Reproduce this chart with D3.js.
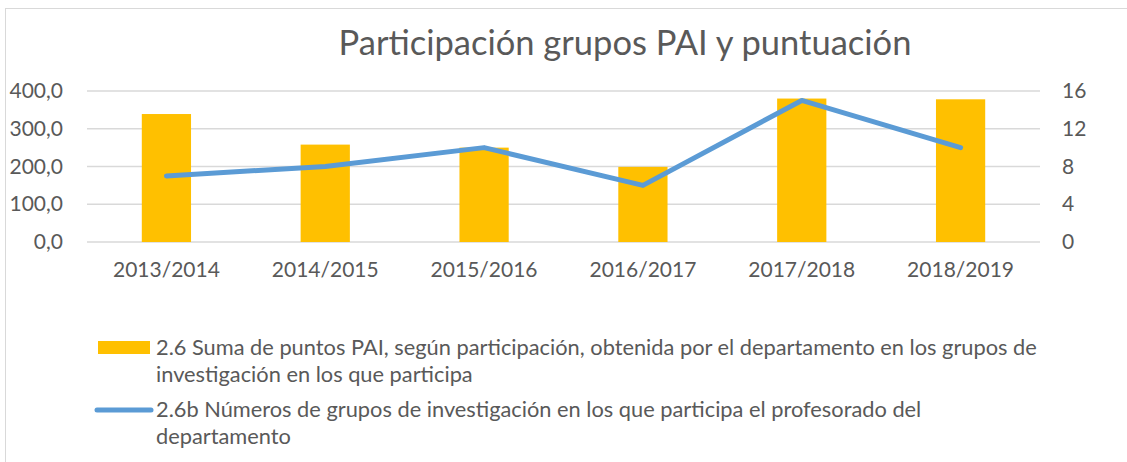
<!DOCTYPE html>
<meta charset="utf-8">
<style>
  body {
    margin: 0;
    background: #fff;
  }

  svg text {
    font-family: Lato, "Open Sans", sans-serif;
    fill: #595959;
  }

  .grid line {
    stroke: #d9d9d9;
    stroke-width: 1.5;
  }
</style>
<body>
  <div id="chart"></div>
  <script src="https://cdnjs.cloudflare.com/ajax/libs/d3/7.8.5/d3.min.js"></script>
  <script>

var width = 1127,
    height = 462;

// data
var years = ["2013/2014", "2014/2015", "2015/2016", "2016/2017", "2017/2018", "2018/2019"];
var puntos = [339, 258, 250, 199, 380, 378];
var grupos = [7, 8, 10, 6, 15, 10];
var leftTicks = [0, 100, 200, 300, 400];
var rightTicks = [0, 4, 8, 12, 16];

var title = "Participación grupos PAI y puntuación";
var legendBar = ["2.6 Suma de puntos PAI, según participación, obtenida por el departamento en los grupos de",
                 "investigación en los que participa"];
var legendLine = ["2.6b Números de grupos de investigación en los que participa el profesorado del",
                  "departamento"];

var plot = {left: 87, right: 1040, top: 91, bottom: 242};

var svg = d3.select("#chart")
  .append("svg")
  .attr("width", width)
  .attr("height", height);

// outer frame (only top and left edges show in the picture)
svg.append("rect")
  .attr("x", 5.5)
  .attr("y", 8.5)
  .attr("width", 1300)
  .attr("height", 600)
  .attr("fill", "none")
  .attr("stroke", "#d9d9d9");

var x = d3.scaleBand()
  .domain(years)
  .range([plot.left, plot.right])
  .paddingInner(0.69)
  .paddingOuter(0.345);

var yLeft = d3.scaleLinear()
  .domain([0, 400])
  .range([plot.bottom, plot.top]);

var yRight = d3.scaleLinear()
  .domain([0, 16])
  .range([plot.bottom, plot.top]);

var fmt = function(d) { return d3.format(".1f")(d).replace(".", ","); };

// gridlines
svg.append("g")
  .attr("class", "grid")
  .selectAll("line")
  .data(leftTicks)
  .enter().append("line")
  .attr("x1", plot.left)
  .attr("x2", plot.right)
  .attr("y1", function(d) { return yLeft(d); })
  .attr("y2", function(d) { return yLeft(d); });

// left axis
var axL = svg.append("g")
  .attr("transform", "translate(" + plot.left + ",0)")
  .call(d3.axisLeft(yLeft).tickValues(leftTicks).tickFormat(fmt).tickSize(0).tickPadding(24));
axL.select(".domain").remove();
axL.selectAll("text").attr("font-size", 21).attr("fill", "#595959").attr("font-family", null);

// right axis
var axR = svg.append("g")
  .attr("transform", "translate(" + plot.right + ",0)")
  .call(d3.axisRight(yRight).tickValues(rightTicks).tickSize(0).tickPadding(22));
axR.select(".domain").remove();
axR.selectAll("text").attr("font-size", 21).attr("fill", "#595959").attr("font-family", null);

// category axis
var axX = svg.append("g")
  .attr("transform", "translate(0," + plot.bottom + ")")
  .call(d3.axisBottom(x).tickSize(0).tickPadding(20));
axX.select(".domain").remove();
axX.selectAll("text").attr("font-size", 21).attr("fill", "#595959").attr("font-family", null);

// bars
svg.append("g")
  .selectAll("rect")
  .data(puntos)
  .enter().append("rect")
  .attr("x", function(d, i) { return x(years[i]); })
  .attr("width", x.bandwidth())
  .attr("y", function(d) { return yLeft(d); })
  .attr("height", function(d) { return yLeft(0) - yLeft(d); })
  .attr("fill", "#ffc000");

// line
var line = d3.line()
  .x(function(d, i) { return x(years[i]) + x.bandwidth() / 2; })
  .y(function(d) { return yRight(d); });

svg.append("path")
  .datum(grupos)
  .attr("d", line)
  .attr("fill", "none")
  .attr("stroke", "#5b9bd5")
  .attr("stroke-width", 5)
  .attr("stroke-linecap", "round")
  .attr("stroke-linejoin", "round");

// title
svg.append("text")
  .attr("x", 625)
  .attr("y", 55)
  .attr("text-anchor", "middle")
  .attr("font-size", 34.5)
  .text(title);

// legend
var leg = svg.append("g");

leg.append("rect")
  .attr("x", 98)
  .attr("y", 341)
  .attr("width", 52)
  .attr("height", 13)
  .attr("fill", "#ffc000");

leg.append("text")
  .attr("font-size", 21.8)
  .selectAll("tspan")
  .data(legendBar)
  .enter().append("tspan")
  .attr("x", 156)
  .attr("y", function(d, i) { return 355 + i * 27; })
  .text(function(d) { return d; });

leg.append("line")
  .attr("x1", 97)
  .attr("x2", 151)
  .attr("y1", 410)
  .attr("y2", 410)
  .attr("stroke", "#5b9bd5")
  .attr("stroke-width", 5)
  .attr("stroke-linecap", "round");

leg.append("text")
  .attr("font-size", 21.8)
  .selectAll("tspan")
  .data(legendLine)
  .enter().append("tspan")
  .attr("x", 156)
  .attr("y", function(d, i) { return 417 + i * 27; })
  .text(function(d) { return d; });

  </script>
</body>
